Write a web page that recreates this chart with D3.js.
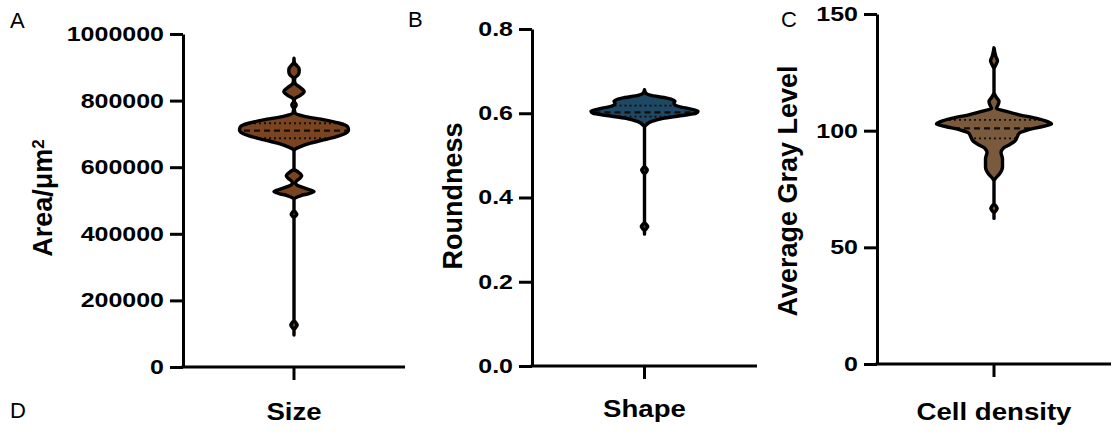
<!DOCTYPE html>
<html>
<head>
<meta charset="utf-8">
<script src="https://cdn.jsdelivr.net/npm/d3@7"></script>
<style>
  body { margin: 0; background: #fff; }
  svg text { font-family: "Liberation Sans", Arial, sans-serif; }
</style>
</head>
<body>
<div id="chart"></div>
<script>
// violin outlines: value levels and relative density (0-100)
var sizeValues = [927000, 915000, 905000, 895000, 887000, 877000, 868000, 860000,
  850000, 840000, 827000, 815000, 806000, 800000,
  797000, 792000, 787000, 782000, 777000,
  763000, 757000, 752000, 742000, 732000, 722000, 712000, 702000, 692000, 682000, 672000, 662000, 654000, 648000,
  595000, 588000, 580000, 574000, 567000, 560000, 553000,
  546000, 540000, 533000, 527000, 521000, 515000, 508000, 502000,
  471000, 465000, 459000, 453000, 447000,
  141000, 133000, 126000, 119000, 111000, 96000];
var sizeDensity = [0, 0.5, 5, 9, 9.1, 7, 1.5, 0.9,
  2.6, 10.5, 17.9, 10.5, 1.8, 0.5,
  0.5, 2.6, 3.9, 2.6, 0.5,
  1.8, 8.8, 20.2, 53.5, 79.8, 93.9, 95.6, 90.4, 74.6, 51.8, 28.9, 11.4, 1.8, 0,
  0, 5.3, 11.4, 13.5, 10.5, 5.3, 2.6,
  5.3, 14, 26.3, 35.1, 26.3, 12.3, 2.6, 0,
  0, 2.6, 4.9, 2.6, 0,
  0, 3.2, 5.6, 3.2, 0, 0];
var sizeQuartiles = [687000, 710000, 732000];

var shapeValues = [0.656, 0.648, 0.643, 0.636, 0.629, 0.624, 0.616, 0.610, 0.605, 0.600, 0.594, 0.588, 0.580, 0.572, 0.566,
  0.475, 0.470, 0.465, 0.460, 0.455,
  0.342, 0.336, 0.331, 0.326, 0.320, 0.313];
var shapeDensity = [0, 2, 9.6, 39.5, 53.5, 51.8, 60.5, 81.6, 93.9, 90.4, 62.3, 32.5, 11.4, 2.6, 0,
  0, 2.6, 4.9, 2.6, 0,
  0, 3.2, 5.6, 3.2, 0, 0];
var shapeQuartiles = [0.592, 0.602, 0.618];

var grayValues = [135.5, 131.8, 130, 128.2, 126.4,
  116.5, 114.5, 112.5, 110.5, 109.5, 108.5, 106.8, 105.4, 103.9, 102.9, 101.9, 100.4, 99.0, 97.6, 95.4, 94.0, 92.6, 90.6, 88.0, 84.4, 81.4, 79.3, 78.5,
  68.8, 67.8, 66.7, 65.6, 64.6, 62.4];
var grayDensity = [0, 3.2, 6.1, 3.2, 0,
  0, 3.5, 8.8, 6.1, 4.4, 18.4, 44.7, 72.8, 93.9, 100.9, 86.8, 60.5, 44.7, 41.2, 36, 27.2, 16.7, 12.3, 14.9, 14.9, 9.6, 1.8, 0,
  0, 3.2, 5.6, 3.2, 0, 0];
var grayQuartiles = [96.7, 101.0, 104.6];

var categories = ["Size", "Shape", "Cell density"];
var yTitles = ["Area/μm", "Roundness", "Average Gray Level"];

var svg = d3.select("#chart").append("svg")
  .attr("width", 1113)
  .attr("height", 439);

var widthScale = d3.scaleLinear().domain([0, 100]).range([0, 57]);

var panels = [
  { left: 183, axisW: 222, top: 34, bottom: 367, domain: [0, 1000000], step: 200000, fmt: d3.format("d"),
    values: sizeValues, dens: sizeDensity, quart: sizeQuartiles, fill: "#7a4420",
    cat: categories[0], title: yTitles[0], titleX: 52, titleY: 198, catPad: 23 },
  { left: 532, axisW: 225, top: 29, bottom: 366, domain: [0, 0.8], step: 0.2, fmt: d3.format(".1f"),
    values: shapeValues, dens: shapeDensity, quart: shapeQuartiles, fill: "#1e4864",
    cat: categories[1], title: yTitles[1], titleX: 462, titleY: 196, catPad: 21 },
  { left: 877, axisW: 234, top: 14, bottom: 364, domain: [0, 150], step: 50, fmt: d3.format("d"),
    values: grayValues, dens: grayDensity, quart: grayQuartiles, fill: "#7a5a3c",
    cat: categories[2], title: yTitles[2], titleX: 797, titleY: 191, catPad: 26 }
];

panels.forEach(function(p, i) {
  var y = d3.scaleLinear().domain(p.domain).range([p.bottom, p.top]);
  var x = d3.scaleBand().domain([p.cat]).range([0, p.axisW]);
  var g = svg.append("g").attr("transform", `translate(${p.left}, 0)`);
  var cx = x(p.cat) + x.bandwidth() / 2;

  // violin
  var pts = p.values.map(function(v, k) { return { v: v, d: p.dens[k] }; });
  var area = d3.area()
    .y(d => y(d.v))
    .x0(d => cx - widthScale(d.d))
    .x1(d => cx + widthScale(d.d))
    .curve(d3.curveMonotoneY);
  var pathD = area(pts);

  svg.append("clipPath").attr("id", "clip" + i)
    .append("path").attr("d", pathD);

  g.append("path")
    .attr("d", pathD)
    .attr("fill", p.fill)
    .attr("stroke", "none");

  var lines = g.append("g").attr("clip-path", `url(#clip${i})`);
  p.quart.forEach(function(q, k) {
    lines.append("line")
      .attr("x1", cx - 70).attr("x2", cx + 70)
      .attr("y1", y(q)).attr("y2", y(q))
      .attr("stroke", "#140c06")
      .attr("stroke-width", k === 1 ? 2.2 : 1.8)
      .attr("stroke-dasharray", k === 1 ? "6,4" : "2,3");
  });

  g.append("path")
    .attr("d", pathD)
    .attr("fill", "none")
    .attr("stroke", "#000")
    .attr("stroke-width", 3.4)
    .attr("stroke-linejoin", "round");

  // y axis
  var yAxis = d3.axisLeft(y)
    .tickValues(d3.range(p.domain[0], p.domain[1] + p.step / 2, p.step))
    .tickFormat(p.fmt)
    .tickSize(13)
    .tickSizeOuter(0);
  var ya = g.append("g").call(yAxis);
  ya.select(".domain").attr("stroke-width", 3);
  ya.selectAll(".tick line").attr("stroke-width", 3);
  ya.selectAll(".tick text")
    .attr("x", -19 / 1.25)
    .attr("transform", "scale(1.25,1)")
    .style("font-size", "20px")
    .style("font-weight", "bold")
    .attr("fill", "#000");

  // x axis
  var xAxis = d3.axisBottom(x).tickSize(13).tickSizeOuter(0).tickPadding(p.catPad);
  var xa = g.append("g").attr("transform", `translate(0, ${p.bottom})`).call(xAxis);
  xa.select(".domain").attr("stroke-width", 3).attr("d", `M-1.5,0H${p.axisW}`);
  xa.selectAll(".tick line").attr("stroke-width", 3);
  xa.selectAll(".tick text")
    .attr("transform", "scale(1.15,1)")
    .style("font-size", "24px")
    .style("font-weight", "bold")
    .attr("fill", "#000");

  // y title
  var t = svg.append("text")
    .attr("transform", `translate(${p.titleX}, ${p.titleY}) rotate(-90)`)
    .attr("text-anchor", "middle")
    .style("font-size", "27px")
    .style("font-weight", "bold")
    .text(p.title);
  if (i === 0) {
    t.append("tspan").attr("dy", "-0.45em").style("font-size", "17px").text("2");
  }
});

// panel letters
var letters = [["A", 10, 28], ["B", 408, 27], ["C", 781, 27], ["D", 10, 418]];
svg.selectAll(".letter")
  .data(letters)
  .enter()
  .append("text")
  .attr("class", "letter")
  .attr("x", d => d[1])
  .attr("y", d => d[2])
  .style("font-size", "22px")
  .text(d => d[0]);
</script>
</body>
</html>
